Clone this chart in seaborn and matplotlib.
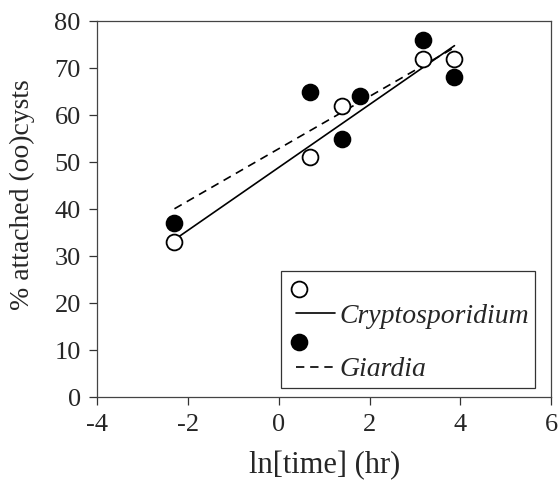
import numpy as np
import pandas as pd
import matplotlib
matplotlib.use("Agg")
import matplotlib.pyplot as plt
import seaborn as sns
from matplotlib.legend_handler import HandlerLine2D, HandlerPathCollection

# Data (ln of time in hours, % attached)
crypto_time_hr = [0.1, 2, 4, 24, 48]
crypto_attached = [33, 51, 62, 72, 72]
giardia_time_hr = [0.1, 2, 4, 6, 24, 48]
giardia_attached = [37, 65, 55, 64, 76, 68]
labels = ["Cryptosporidium", "Giardia"]

crypto = pd.DataFrame({"lnt": np.log(crypto_time_hr), "pct": crypto_attached})
giardia = pd.DataFrame({"lnt": np.log(giardia_time_hr), "pct": giardia_attached})

sns.set_style("ticks")
plt.rcParams["font.family"] = ["Liberation Serif", "DejaVu Serif"]

fig = plt.figure(figsize=(5.58, 4.82), dpi=100)
ax = fig.add_axes([0.1747, 0.1763, 0.8128, 0.7801])

sns.regplot(data=crypto, x="lnt", y="pct", ci=None, ax=ax,
            scatter_kws=dict(s=130, facecolor="white", edgecolor="black",
                             linewidths=1.3, alpha=1, zorder=3),
            line_kws=dict(color="black", lw=1.2, ls="-", zorder=2))
sns.regplot(data=giardia, x="lnt", y="pct", ci=None, ax=ax,
            scatter_kws=dict(s=130, facecolor="black", edgecolor="black",
                             linewidths=1.3, alpha=1, zorder=3),
            line_kws=dict(color="black", lw=1.2, ls=(0, (5, 3.5)), zorder=2))

ax.set_xlim(-4, 6)
ax.set_ylim(0, 80)
ax.set_xticks(range(-4, 7, 2))
ax.set_yticks(range(0, 81, 10))
ax.set_xticklabels([str(v) for v in range(-4, 7, 2)])
ax.set_xlabel("ln[time] (hr)", fontsize=22, labelpad=11)
ax.set_ylabel("% attached (oo)cysts", fontsize=20)
ax.yaxis.set_label_coords(-0.138, 0.537)
ax.tick_params(axis="both", labelsize=19, direction="out", length=6,
               width=0.9, color="#333333", pad=6)
for sp in ax.spines.values():
    sp.set_visible(True)
    sp.set_color("#444444")
    sp.set_linewidth(0.9)


class ShiftLine(HandlerLine2D):
    def get_xdata(self, legend, xdescent, ydescent, width, height, fontsize):
        x0 = -xdescent + 0.2 * width
        x1 = -xdescent + width
        return np.array([x0, x1]), np.array([0.5 * (x0 + x1)])


class LeftMarker(HandlerPathCollection):
    def get_xdata(self, legend, xdescent, ydescent, width, height, fontsize):
        x = [-xdescent + 0.27 * width]
        return x, x


handles = [ax.collections[0], ax.lines[0], ax.collections[1], ax.lines[1]]
hmap = {ax.collections[0]: LeftMarker(), ax.collections[1]: LeftMarker(),
        ax.lines[0]: ShiftLine(), ax.lines[1]: ShiftLine()}
leg = ax.legend(handles, ["", labels[0], "", labels[1]],
                handler_map=hmap,
                loc="lower right", bbox_to_anchor=(0.9647, 0.024),
                prop=dict(style="italic", size=20), frameon=True,
                fancybox=False, framealpha=1, edgecolor="#333333",
                borderpad=0.2, labelspacing=0.05, handlelength=1.75,
                handletextpad=0.18, scatterpoints=1, borderaxespad=0)
leg.get_frame().set_linewidth(0.9)

fig.savefig("out.png", dpi=100)
